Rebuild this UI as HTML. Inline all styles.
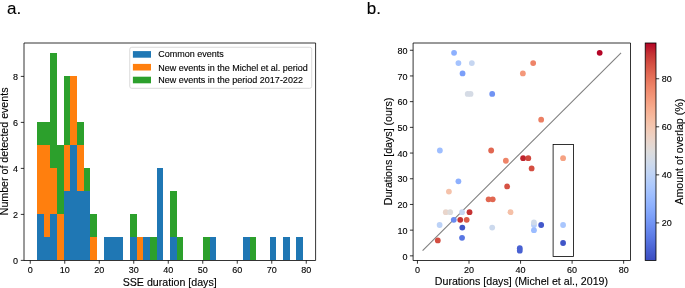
<!DOCTYPE html>
<html><head><meta charset="utf-8"><style>
html,body{margin:0;padding:0;background:#fff;}
svg{display:block;will-change:transform;}
text{font-family:'Liberation Sans',sans-serif;fill:#000;stroke:#000;stroke-width:0.12px;}
</style></head><body>
<svg width="685" height="288" viewBox="0 0 685 288">
<rect width="685" height="288" fill="#fff"/>
<g shape-rendering="crispEdges">
<rect x="37.15" y="214.40" width="6.64" height="46.00" fill="#1f77b4"/>
<rect x="37.15" y="145.40" width="6.64" height="69.00" fill="#ff7f0e"/>
<rect x="37.15" y="122.40" width="6.64" height="23.00" fill="#2ca02c"/>
<rect x="43.79" y="237.40" width="6.64" height="23.00" fill="#1f77b4"/>
<rect x="43.79" y="145.40" width="6.64" height="92.00" fill="#ff7f0e"/>
<rect x="43.79" y="122.40" width="6.64" height="23.00" fill="#2ca02c"/>
<rect x="50.43" y="214.40" width="6.64" height="46.00" fill="#1f77b4"/>
<rect x="50.43" y="168.40" width="6.64" height="46.00" fill="#ff7f0e"/>
<rect x="50.43" y="53.40" width="6.64" height="115.00" fill="#2ca02c"/>
<rect x="57.07" y="214.40" width="6.64" height="46.00" fill="#ff7f0e"/>
<rect x="57.07" y="145.40" width="6.64" height="69.00" fill="#2ca02c"/>
<rect x="63.71" y="191.40" width="6.64" height="69.00" fill="#1f77b4"/>
<rect x="63.71" y="145.40" width="6.64" height="46.00" fill="#ff7f0e"/>
<rect x="63.71" y="76.40" width="6.64" height="69.00" fill="#2ca02c"/>
<rect x="70.35" y="145.40" width="6.64" height="115.00" fill="#1f77b4"/>
<rect x="70.35" y="76.40" width="6.64" height="69.00" fill="#ff7f0e"/>
<rect x="77.00" y="191.40" width="6.64" height="69.00" fill="#1f77b4"/>
<rect x="77.00" y="145.40" width="6.64" height="46.00" fill="#ff7f0e"/>
<rect x="77.00" y="122.40" width="6.64" height="23.00" fill="#2ca02c"/>
<rect x="83.64" y="191.40" width="6.64" height="69.00" fill="#1f77b4"/>
<rect x="83.64" y="168.40" width="6.64" height="23.00" fill="#2ca02c"/>
<rect x="90.28" y="237.40" width="6.64" height="23.00" fill="#ff7f0e"/>
<rect x="90.28" y="214.40" width="6.64" height="23.00" fill="#2ca02c"/>
<rect x="103.56" y="237.40" width="6.64" height="23.00" fill="#1f77b4"/>
<rect x="110.20" y="237.40" width="6.64" height="23.00" fill="#1f77b4"/>
<rect x="116.84" y="237.40" width="6.64" height="23.00" fill="#1f77b4"/>
<rect x="130.12" y="237.40" width="6.64" height="23.00" fill="#1f77b4"/>
<rect x="130.12" y="214.40" width="6.64" height="23.00" fill="#2ca02c"/>
<rect x="136.76" y="237.40" width="6.64" height="23.00" fill="#ff7f0e"/>
<rect x="143.41" y="237.40" width="6.64" height="23.00" fill="#1f77b4"/>
<rect x="150.05" y="237.40" width="6.64" height="23.00" fill="#2ca02c"/>
<rect x="156.69" y="168.40" width="6.64" height="92.00" fill="#1f77b4"/>
<rect x="169.97" y="237.40" width="6.64" height="23.00" fill="#1f77b4"/>
<rect x="169.97" y="191.40" width="6.64" height="46.00" fill="#2ca02c"/>
<rect x="176.61" y="237.40" width="6.64" height="23.00" fill="#2ca02c"/>
<rect x="203.18" y="237.40" width="6.64" height="23.00" fill="#2ca02c"/>
<rect x="209.82" y="237.40" width="6.64" height="23.00" fill="#1f77b4"/>
<rect x="243.02" y="237.40" width="6.64" height="23.00" fill="#1f77b4"/>
<rect x="249.66" y="237.40" width="6.64" height="23.00" fill="#2ca02c"/>
<rect x="269.58" y="237.40" width="6.64" height="23.00" fill="#1f77b4"/>
<rect x="282.87" y="237.40" width="6.64" height="23.00" fill="#1f77b4"/>
<rect x="296.15" y="237.40" width="6.64" height="23.00" fill="#1f77b4"/>
</g>
<path d="M24.0 43.0H315.6V260.5H24.0Z" fill="none" stroke="#000" stroke-width="0.8"/>
<line x1="30.25" y1="260.5" x2="30.25" y2="263.7" stroke="#000" stroke-width="0.8"/>
<text x="30.25" y="273.3" font-size="9" text-anchor="middle">0</text>
<line x1="64.75" y1="260.5" x2="64.75" y2="263.7" stroke="#000" stroke-width="0.8"/>
<text x="64.75" y="273.3" font-size="9" text-anchor="middle">10</text>
<line x1="99.25" y1="260.5" x2="99.25" y2="263.7" stroke="#000" stroke-width="0.8"/>
<text x="99.25" y="273.3" font-size="9" text-anchor="middle">20</text>
<line x1="133.75" y1="260.5" x2="133.75" y2="263.7" stroke="#000" stroke-width="0.8"/>
<text x="133.75" y="273.3" font-size="9" text-anchor="middle">30</text>
<line x1="168.25" y1="260.5" x2="168.25" y2="263.7" stroke="#000" stroke-width="0.8"/>
<text x="168.25" y="273.3" font-size="9" text-anchor="middle">40</text>
<line x1="202.75" y1="260.5" x2="202.75" y2="263.7" stroke="#000" stroke-width="0.8"/>
<text x="202.75" y="273.3" font-size="9" text-anchor="middle">50</text>
<line x1="237.25" y1="260.5" x2="237.25" y2="263.7" stroke="#000" stroke-width="0.8"/>
<text x="237.25" y="273.3" font-size="9" text-anchor="middle">60</text>
<line x1="271.75" y1="260.5" x2="271.75" y2="263.7" stroke="#000" stroke-width="0.8"/>
<text x="271.75" y="273.3" font-size="9" text-anchor="middle">70</text>
<line x1="306.25" y1="260.5" x2="306.25" y2="263.7" stroke="#000" stroke-width="0.8"/>
<text x="306.25" y="273.3" font-size="9" text-anchor="middle">80</text>
<line x1="20.8" y1="260.40" x2="24.0" y2="260.40" stroke="#000" stroke-width="0.8"/>
<text x="18.1" y="264.10" font-size="9" text-anchor="end">0</text>
<line x1="20.8" y1="214.40" x2="24.0" y2="214.40" stroke="#000" stroke-width="0.8"/>
<text x="18.1" y="218.10" font-size="9" text-anchor="end">2</text>
<line x1="20.8" y1="168.40" x2="24.0" y2="168.40" stroke="#000" stroke-width="0.8"/>
<text x="18.1" y="172.10" font-size="9" text-anchor="end">4</text>
<line x1="20.8" y1="122.40" x2="24.0" y2="122.40" stroke="#000" stroke-width="0.8"/>
<text x="18.1" y="126.10" font-size="9" text-anchor="end">6</text>
<line x1="20.8" y1="76.40" x2="24.0" y2="76.40" stroke="#000" stroke-width="0.8"/>
<text x="18.1" y="80.10" font-size="9" text-anchor="end">8</text>
<text x="169.7" y="285.5" font-size="10.65" text-anchor="middle">SSE duration [days]</text>
<text transform="translate(8.2 151.4) rotate(-90)" font-size="10.65" text-anchor="middle">Number of detected events</text>
<rect x="129.75" y="47.25" width="181.95" height="41.05" rx="2" fill="#fff" fill-opacity="0.8" stroke="#d0d0d0" stroke-width="0.8"/>
<rect x="132.9" y="51.10" width="18.1" height="6.6" fill="#1f77b4"/>
<text x="158.3" y="57.40" font-size="9">Common events</text>
<rect x="132.9" y="63.90" width="18.1" height="6.6" fill="#ff7f0e"/>
<text x="158.3" y="70.60" font-size="9">New events in the Michel et al. period</text>
<rect x="132.9" y="76.70" width="18.1" height="6.6" fill="#2ca02c"/>
<text x="158.3" y="83.40" font-size="9">New events in the period 2017-2022</text>
<line x1="422.60" y1="250.71" x2="621.07" y2="52.82" stroke="#808080" stroke-width="1.1"/>
<circle cx="454.05" cy="52.82" r="2.9" fill="#8db0fe"/>
<circle cx="458.43" cy="63.10" r="2.9" fill="#a5c3fe"/>
<circle cx="471.84" cy="63.10" r="2.9" fill="#c6d6f1"/>
<circle cx="462.56" cy="73.38" r="2.9" fill="#7b9ff9"/>
<circle cx="533.18" cy="63.10" r="2.9" fill="#ee8468"/>
<circle cx="522.87" cy="73.38" r="2.9" fill="#f4987a"/>
<circle cx="467.71" cy="93.94" r="2.9" fill="#d5dbe5"/>
<circle cx="470.55" cy="93.94" r="2.9" fill="#d5dbe5"/>
<circle cx="492.20" cy="93.94" r="2.9" fill="#7093f3"/>
<circle cx="541.17" cy="119.64" r="2.9" fill="#ec7f63"/>
<circle cx="439.87" cy="150.48" r="2.9" fill="#9ebeff"/>
<circle cx="491.17" cy="150.48" r="2.9" fill="#e16751"/>
<circle cx="505.86" cy="160.76" r="2.9" fill="#ee8468"/>
<circle cx="523.13" cy="158.19" r="2.9" fill="#be242e"/>
<circle cx="528.28" cy="158.19" r="2.9" fill="#d0473d"/>
<circle cx="531.63" cy="168.47" r="2.9" fill="#d44e41"/>
<circle cx="563.08" cy="158.19" r="2.9" fill="#f6a283"/>
<circle cx="458.43" cy="181.32" r="2.9" fill="#8db0fe"/>
<circle cx="507.15" cy="186.46" r="2.9" fill="#d65244"/>
<circle cx="448.90" cy="191.60" r="2.9" fill="#f5c2aa"/>
<circle cx="488.59" cy="199.31" r="2.9" fill="#e16751"/>
<circle cx="492.71" cy="199.31" r="2.9" fill="#e16751"/>
<circle cx="445.80" cy="212.16" r="2.9" fill="#e9d5cb"/>
<circle cx="450.18" cy="212.16" r="2.9" fill="#dddcdc"/>
<circle cx="462.04" cy="212.16" r="2.9" fill="#c6d6f1"/>
<circle cx="469.52" cy="212.16" r="2.9" fill="#c53334"/>
<circle cx="510.50" cy="212.16" r="2.9" fill="#f5c0a7"/>
<circle cx="453.79" cy="219.87" r="2.9" fill="#6a8bef"/>
<circle cx="460.24" cy="219.87" r="2.9" fill="#c53334"/>
<circle cx="466.68" cy="219.87" r="2.9" fill="#dc5d4a"/>
<circle cx="439.62" cy="225.01" r="2.9" fill="#bcd2f7"/>
<circle cx="462.30" cy="227.58" r="2.9" fill="#4055c8"/>
<circle cx="492.20" cy="227.58" r="2.9" fill="#ccd9ed"/>
<circle cx="533.95" cy="225.01" r="2.9" fill="#b6cefa"/>
<circle cx="533.95" cy="222.44" r="2.9" fill="#cfdaea"/>
<circle cx="533.95" cy="230.15" r="2.9" fill="#9bbcff"/>
<circle cx="541.17" cy="225.01" r="2.9" fill="#4358cb"/>
<circle cx="563.08" cy="225.01" r="2.9" fill="#a9c6fd"/>
<circle cx="563.08" cy="243.00" r="2.9" fill="#4055c8"/>
<circle cx="437.81" cy="240.43" r="2.9" fill="#d44e41"/>
<circle cx="462.04" cy="237.86" r="2.9" fill="#5977e3"/>
<circle cx="519.78" cy="248.14" r="2.9" fill="#4961d2"/>
<circle cx="519.78" cy="250.71" r="2.9" fill="#4961d2"/>
<circle cx="599.68" cy="52.82" r="2.9" fill="#b40426"/>
<rect x="553.1" y="144.5" width="20.4" height="112.0" fill="none" stroke="#000" stroke-width="0.8"/>
<path d="M413.1 43.0H630.5V260.5H413.1Z" fill="none" stroke="#000" stroke-width="0.8"/>
<line x1="417.45" y1="260.5" x2="417.45" y2="263.7" stroke="#000" stroke-width="0.8"/>
<text x="417.45" y="273.3" font-size="9" text-anchor="middle">0</text>
<line x1="469.00" y1="260.5" x2="469.00" y2="263.7" stroke="#000" stroke-width="0.8"/>
<text x="469.00" y="273.3" font-size="9" text-anchor="middle">20</text>
<line x1="520.55" y1="260.5" x2="520.55" y2="263.7" stroke="#000" stroke-width="0.8"/>
<text x="520.55" y="273.3" font-size="9" text-anchor="middle">40</text>
<line x1="572.10" y1="260.5" x2="572.10" y2="263.7" stroke="#000" stroke-width="0.8"/>
<text x="572.10" y="273.3" font-size="9" text-anchor="middle">60</text>
<line x1="623.65" y1="260.5" x2="623.65" y2="263.7" stroke="#000" stroke-width="0.8"/>
<text x="623.65" y="273.3" font-size="9" text-anchor="middle">80</text>
<line x1="409.90000000000003" y1="255.85" x2="413.1" y2="255.85" stroke="#000" stroke-width="0.8"/>
<text x="407.4" y="259.55" font-size="9" text-anchor="end">0</text>
<line x1="409.90000000000003" y1="230.15" x2="413.1" y2="230.15" stroke="#000" stroke-width="0.8"/>
<text x="407.4" y="233.85" font-size="9" text-anchor="end">10</text>
<line x1="409.90000000000003" y1="204.45" x2="413.1" y2="204.45" stroke="#000" stroke-width="0.8"/>
<text x="407.4" y="208.15" font-size="9" text-anchor="end">20</text>
<line x1="409.90000000000003" y1="178.75" x2="413.1" y2="178.75" stroke="#000" stroke-width="0.8"/>
<text x="407.4" y="182.45" font-size="9" text-anchor="end">30</text>
<line x1="409.90000000000003" y1="153.05" x2="413.1" y2="153.05" stroke="#000" stroke-width="0.8"/>
<text x="407.4" y="156.75" font-size="9" text-anchor="end">40</text>
<line x1="409.90000000000003" y1="127.35" x2="413.1" y2="127.35" stroke="#000" stroke-width="0.8"/>
<text x="407.4" y="131.05" font-size="9" text-anchor="end">50</text>
<line x1="409.90000000000003" y1="101.65" x2="413.1" y2="101.65" stroke="#000" stroke-width="0.8"/>
<text x="407.4" y="105.35" font-size="9" text-anchor="end">60</text>
<line x1="409.90000000000003" y1="75.95" x2="413.1" y2="75.95" stroke="#000" stroke-width="0.8"/>
<text x="407.4" y="79.65" font-size="9" text-anchor="end">70</text>
<line x1="409.90000000000003" y1="50.25" x2="413.1" y2="50.25" stroke="#000" stroke-width="0.8"/>
<text x="407.4" y="53.95" font-size="9" text-anchor="end">80</text>
<text x="521.45" y="285.3" font-size="10.65" text-anchor="middle">Durations [days] (Michel et al., 2019)</text>
<text transform="translate(392.4 151.45) rotate(-90)" font-size="10.65" text-anchor="middle">Durations [days] (ours)</text>
<defs><linearGradient id="cb" x1="0" y1="0" x2="0" y2="1"><stop offset="0.000" stop-color="#b40426"/><stop offset="0.050" stop-color="#c53334"/><stop offset="0.100" stop-color="#d65244"/><stop offset="0.150" stop-color="#e36c55"/><stop offset="0.200" stop-color="#ee8468"/><stop offset="0.250" stop-color="#f4987a"/><stop offset="0.300" stop-color="#f7ac8e"/><stop offset="0.350" stop-color="#f6bda2"/><stop offset="0.400" stop-color="#f2cbb7"/><stop offset="0.450" stop-color="#e9d5cb"/><stop offset="0.500" stop-color="#dddcdc"/><stop offset="0.550" stop-color="#cfdaea"/><stop offset="0.600" stop-color="#c0d4f5"/><stop offset="0.650" stop-color="#afcafc"/><stop offset="0.700" stop-color="#9ebeff"/><stop offset="0.750" stop-color="#8db0fe"/><stop offset="0.800" stop-color="#7b9ff9"/><stop offset="0.850" stop-color="#6a8bef"/><stop offset="0.900" stop-color="#5977e3"/><stop offset="0.950" stop-color="#4961d2"/><stop offset="1.000" stop-color="#3b4cc0"/></linearGradient></defs>
<rect x="645.2" y="43.0" width="10.799999999999955" height="217.39999999999998" fill="url(#cb)" stroke="#000" stroke-width="0.8"/>
<line x1="656.0" y1="222.90" x2="659.2" y2="222.90" stroke="#000" stroke-width="0.8"/>
<text x="661.8" y="226.40" font-size="9">20</text>
<line x1="656.0" y1="174.85" x2="659.2" y2="174.85" stroke="#000" stroke-width="0.8"/>
<text x="661.8" y="178.35" font-size="9">40</text>
<line x1="656.0" y1="126.80" x2="659.2" y2="126.80" stroke="#000" stroke-width="0.8"/>
<text x="661.8" y="130.30" font-size="9">60</text>
<line x1="656.0" y1="78.75" x2="659.2" y2="78.75" stroke="#000" stroke-width="0.8"/>
<text x="661.8" y="82.25" font-size="9">80</text>
<text transform="translate(682.8 151.7) rotate(-90)" font-size="10.65" text-anchor="middle">Amount of overlap (%)</text>
<text x="7.0" y="14.4" font-size="17">a.</text>
<text x="366.8" y="14.3" font-size="17">b.</text>
</svg>
</body></html>
